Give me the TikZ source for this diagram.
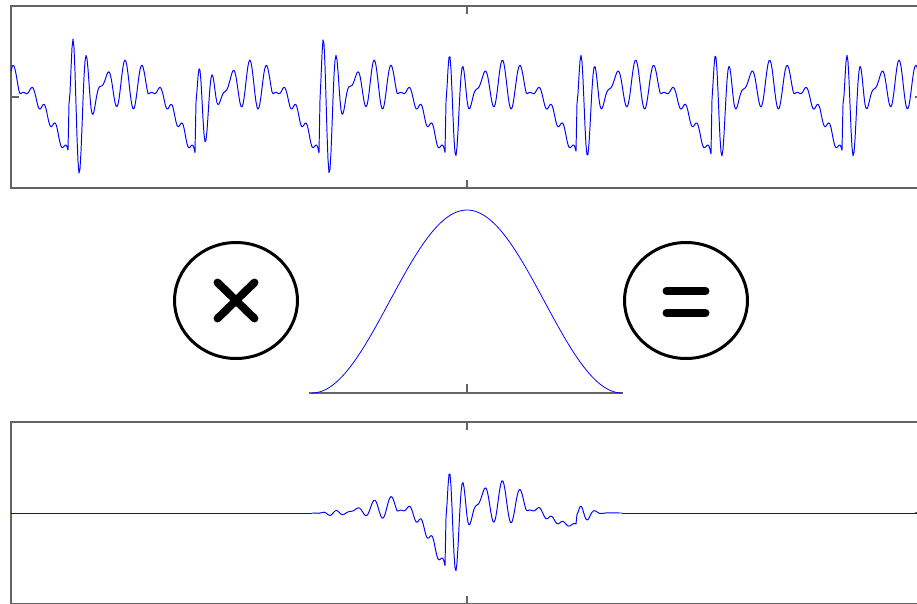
\documentclass[tikz,border=0pt]{standalone}
\usepackage{tikz}
\usetikzlibrary{shapes.geometric}
\usepackage{xcolor}
\definecolor{colSignal}{RGB}{0, 0, 255}
\definecolor{colCadre}{RGB}{100, 100, 100}

\begin{document}
\begin{tikzpicture}[
  x=0.02cm, y=-0.02cm,
  declare function={
    ph(\x)   = (\x-69+10.5*sin(0.23226*(\x-69))*sin(0.23226*(\x-69)))/129;
    tau(\x)  = 129*(ph(\x)-floor(ph(\x)));
    kk(\x)   = floor(ph(\x));
    amp(\k)  = 57+19*(equal(\k,0)+equal(\k,2))-15*equal(\k,1);
    spk(\t)  = (\t/7)*exp(max(-9,1-\t/7))*sin(25.714*\t);
    rng(\t)  = 25*sin(20.571*(\t-34.6))*greater(\t,22)*less(\t,95)*sin(2.4658*(\t-22));
    rmp(\t)  = -7+19*min(1,max(0,(\t-10)/25))
               -72*max(0,(\t-80)/49)*sqrt(max(0,(\t-80)/49))
               +6*sin(32.727*(\t-80))*greater(\t,80);
    sig(\x)  = amp(kk(\x))*spk(tau(\x))+rng(tau(\x))+rmp(tau(\x));
    hann(\x) = sin(0.58065*(\x-312))*sin(0.58065*(\x-312));
  },
  cadre/.style={draw=colCadre, line width=0.8pt},
  graduation/.style={draw=colCadre, line width=0.8pt},
  signal/.style={draw=colSignal, line width=0.55pt, line join=round},
  opcircle/.style={ellipse, draw, line width=1.7pt, inner sep=0pt,
                   minimum width=2.46cm, minimum height=2.32cm},
  opsign/.style={line width=4.5pt, line cap=round}
]
\useasboundingbox (0,0) rectangle (917,603);
\clip (0,0) rectangle (917,603);

% ---------- Signal d'origine (haut) ----------
\draw[cadre] (11,6) rectangle (923,188);
\draw[graduation] (467,6) -- (467,14);
\draw[graduation] (467,188) -- (467,180);
\draw[graduation] (11,97) -- (19,97);
\draw[graduation] (923,97) -- (915,97);
\draw[signal] plot[domain=11:923, samples=913] (\x, {97-sig(\x)});

% ---------- Fenêtre de Hann ----------
\draw[cadre] (309,393) -- (623,393);
\draw[graduation] (467,393) -- (467,384);
\draw[signal, line width=0.45pt]
  plot[domain=312:622, samples=156] (\x, {393-183*hann(\x)});

% ---------- Opérateurs ----------
\node[opcircle] (fois) at (236,300.5) {};
\node[opcircle] (egal) at (686,300.5) {};
\draw[opsign] ([shift={(-18.5,-18)}]fois.center) -- ([shift={(18.5,18)}]fois.center);
\draw[opsign] ([shift={(18.5,-18)}]fois.center) -- ([shift={(-18.5,18)}]fois.center);
\draw[opsign] ([shift={(-19.5,-9.5)}]egal.center) -- ([shift={(19.5,-9.5)}]egal.center);
\draw[opsign] ([shift={(-19.5,12.5)}]egal.center) -- ([shift={(19.5,12.5)}]egal.center);

% ---------- Signal fenêtré (bas) ----------
\draw[cadre] (11,422) rectangle (923,604);
\draw[graduation] (467,422) -- (467,430);
\draw[graduation] (467,604) -- (467,596);
\draw[graduation] (923,513) -- (915,513);
\draw[signal] (11,513) -- (312,513);
\draw[signal] plot[domain=312:622, samples=311] (\x, {513-sig(\x)*hann(\x)});
\draw[signal] (622,513) -- (923,513);

\end{tikzpicture}
\end{document}
